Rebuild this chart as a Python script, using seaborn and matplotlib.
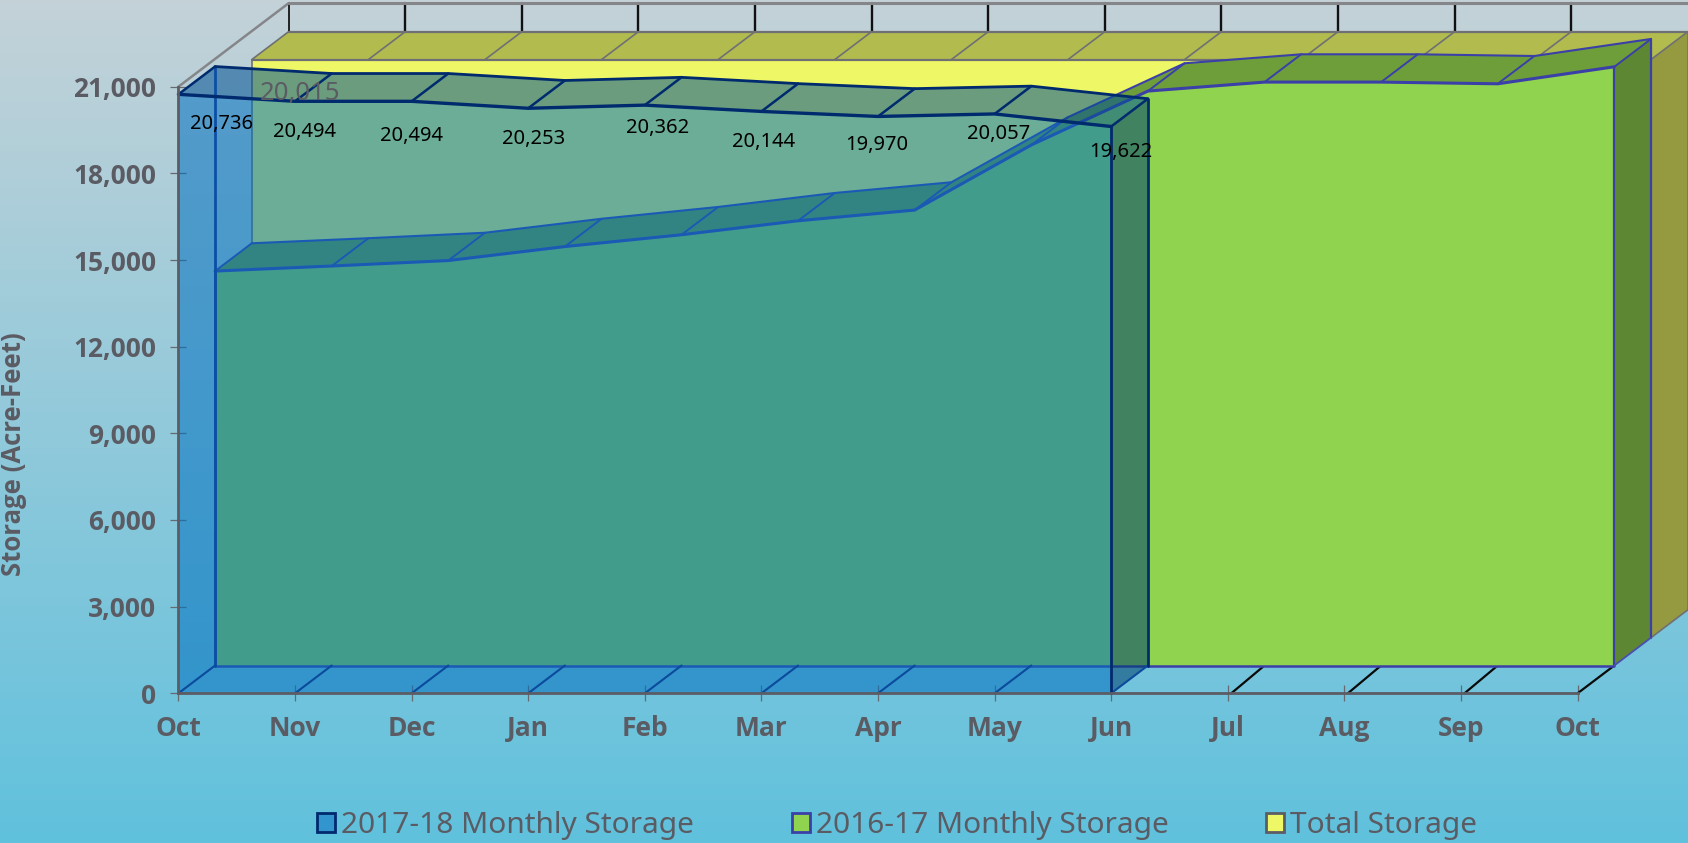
import numpy as np
import pandas as pd
import matplotlib
matplotlib.use("Agg")
import matplotlib.pyplot as plt
from matplotlib.patches import Patch
import seaborn as sns

# ---------- data ----------
months = ["Oct", "Nov", "Dec", "Jan", "Feb", "Mar", "Apr", "May", "Jun", "Jul", "Aug", "Sep", "Oct"]
storage_2017_18 = [20736, 20494, 20494, 20253, 20362, 20144, 19970, 20057, 19622]
storage_2016_17 = [13655, 13830, 14019, 14503, 14912, 15396, 15767, 18020, 19886, 20197, 20197, 20138, 20727]
total_storage = [20015] * 13
y_ticks = [0, 3000, 6000, 9000, 12000, 15000, 18000, 21000]
series_names = ["2017-18 Monthly Storage", "2016-17 Monthly Storage", "Total Storage"]

# ---------- style / layout ----------
FONT = "Noto Sans"
BOLD_FONT = "Open Sans"
TXT = "#5b5b63"
W, H = 1688, 843
X0, DXM = 178.4, 116.6          # pixel of first month, pixels per month
Y0, PPU = 693.3, 606.6 / 21000  # pixel of zero, pixels per acre-foot
DEPTH_X = 36.7 / DXM            # one series layer of depth, in months
DEPTH_Y = 27.8 / PPU            # one series layer of depth, in acre-feet
label_offsets_px = [(43, 30), (10, 31), (0, 35), (5, 31), (13, 23), (2, 31), (-1, 29), (4, 20), (10, 25)]

sns.set_theme(style="white")
plt.rcParams["font.family"] = [FONT, "DejaVu Sans"]

fig = plt.figure(figsize=(W / 100, H / 100), dpi=100)
ax = fig.add_axes([0, 0, 1, 1])
ax.patch.set_alpha(0)

# background gradient
top, bot = np.array([196, 210, 216]) / 255, np.array([96, 193, 221]) / 255
grad = np.linspace(0, 1, 256)[:, None, None] * (bot - top) + top
ax.imshow(grad, extent=(0, 1, 0, 1), transform=ax.transAxes, aspect="auto", zorder=-10, origin="upper")
ax.set_xlim(-X0 / DXM, (W - X0) / DXM)
ax.set_ylim((Y0 - H) / PPU, Y0 / PPU)


def shift(x, y, d):
    return np.asarray(x, float) + d * DEPTH_X, np.asarray(y, float) + d * DEPTH_Y


def poly(xs, ys, color, z, alpha=None):
    ax.fill(xs, ys, color=color, lw=0, zorder=z, alpha=alpha)


def line(x, y, color, lw, z, alpha=None):
    df = pd.DataFrame({"x": x, "y": y, "o": np.arange(len(x))})
    sns.lineplot(data=df, x="x", y="y", sort=False, estimator=None, ax=ax, color=color,
                 lw=lw, zorder=z, legend=False, alpha=alpha, solid_joinstyle="miter")


def box(x, y, d, top_c, side_c, front_c, z, front_alpha=None, top_alpha=None):
    """Front face, top and right side of one depth layer."""
    x = np.asarray(x, float)
    y = np.asarray(y, float)
    fx, fy = shift(x, y, d)
    bx, by = shift(x, y, d + 1)
    poly(np.r_[fx, bx[::-1]], np.r_[fy, by[::-1]], top_c, z, top_alpha)
    rbx, rby = shift([x[-1]], [0], d)
    rbx2, rby2 = shift([x[-1]], [0], d + 1)
    poly([fx[-1], bx[-1], rbx2[0], rbx[0]], [fy[-1], by[-1], rby2[0], rby[0]], side_c, z, top_alpha)
    base = np.full_like(y, shift([0], [0], d)[1][0])
    ax.fill_between(fx, fy, base, color=front_c, lw=0, zorder=z + 0.1, alpha=front_alpha)
    return fx, fy, bx, by, base, rbx, rby, rbx2, rby2


GRAY = "#6f7074"
m = np.arange(len(months))

# ---------- back wall ----------
bx, by = shift(m, np.full(13, 21000), 3)
for xi in bx[1:-1]:
    line([xi, xi], [shift([0], [total_storage[0]], 3)[1][0], by[0]], "#111111", 1.7, 1)
line(bx, by, "#85868a", 2.2, 1.2)
lx, ly = shift([0, 0], [21000, 21000], 0)
lx2, ly2 = shift([0, 0], [21000, 21000], 3)
line([lx[0], lx2[0]], [ly[0], ly2[0]], "#85868a", 1.8, 1.2)
line([bx[0], bx[0]], [by[0], shift([0], [total_storage[0]], 3)[1][0]], "#222222", 1.4, 1)

# ---------- total storage ----------
t = np.array(total_storage, float)
fx, fy, b2x, b2y, base, rbx, rby, rbx2, rby2 = box(m, t, 2, "#b2bb4d", "#95993f", "#eef765", 2)
for i in range(13):
    line([fx[i], b2x[i]], [fy[i], b2y[i]], GRAY, 1.2, 2.2)
line(fx, fy, GRAY, 1.6, 2.2)
line(b2x, b2y, GRAY, 1.6, 2.2)
line([fx[-1], fx[-1]], [fy[-1], base[-1]], GRAY, 1.2, 2.2)
line([fx[0], fx[0]], [fy[0], base[0]], GRAY, 1.2, 2.2)
line([b2x[-1], b2x[-1]], [b2y[-1], rby2[0]], GRAY, 1.2, 2.2)

# ---------- floor ----------
for i in range(9, 13):
    xa, ya = shift([m[i]], [0], 0)
    xb, yb = shift([m[i]], [0], 1)
    line([xa[0] + 0.03 * (i < 12), xb[0]], [ya[0], yb[0]], "#0a0a0a", 1.6, 1.5)
xa, ya = shift([12], [0], 1)
xb, yb = shift([12], [0], 2)
xc, yc = shift([12], [0], 3)
line([xa[0], xb[0]], [ya[0], yb[0]], "#4a4fb0", 1.3, 3.4)
line([xb[0], xc[0]], [yb[0], yc[0]], GRAY, 1.2, 2.3)

# ---------- 2016-17 ----------
INDIGO = "#3b3fa8"
g = np.array(storage_2016_17, float)
fx, fy, b2x, b2y, base, rbx, rby, rbx2, rby2 = box(m, g, 1, "#6e9e3a", "#5e8733", "#90d34f", 3)
for i in range(13):
    line([fx[i], b2x[i]], [fy[i], b2y[i]], INDIGO, 1.4, 3.3)
line(fx, fy, INDIGO, 2.2, 3.3)
line(b2x, b2y, INDIGO, 1.5, 3.3)
line(fx, base, INDIGO, 1.8, 3.3)
line([fx[0], fx[0]], [fy[0], base[0]], INDIGO, 1.8, 3.3)
line([fx[-1], fx[-1]], [fy[-1], base[-1]], INDIGO, 1.6, 3.3)
line([b2x[-1], b2x[-1]], [b2y[-1], rby2[0]], INDIGO, 1.6, 3.3)

# ---------- 2017-18 ----------
NAVY = "#002a6e"
b = np.array(storage_2017_18, float)
bm = m[:len(b)]
fx, fy, b2x, b2y, base, rbx, rby, rbx2, rby2 = box(bm, b, 0, (0, 0.32, 0.58), (0, 0.25, 0.44), (0, 0.44, 0.75),
                                                   5, front_alpha=0.55, top_alpha=0.55)
for i in range(len(b)):
    line([fx[i], b2x[i]], [fy[i], b2y[i]], NAVY, 1.8, 5.3)
    fl = shift([bm[i]], [0], 0)
    bl = shift([bm[i]], [0], 1)
    line([fl[0][0], bl[0][0]], [fl[1][0], bl[1][0]], "#0b4a9c", 1.5, 5.3)
line(fx, fy, NAVY, 2.4, 5.3)
line(b2x, b2y, NAVY, 2.0, 5.3)
line([b2x[0], b2x[0]], [b2y[0], shift([0], [0], 1)[1][0]], "#0b4fa5", 2.0, 5.2)
line([fx[-1], fx[-1]], [fy[-1], 0], NAVY, 2.0, 5.3)
line([b2x[-1], b2x[-1]], [b2y[-1], rby2[0]], NAVY, 2.0, 5.3)

# ---------- data labels ----------
for xi, v, (dx, dy) in zip(bm, storage_2017_18, label_offsets_px):
    ax.annotate(f"{v:,}", (xi, v), xytext=(dx * 0.72, -dy * 0.72), textcoords="offset points",
                ha="center", va="center", fontsize=14.5, color="black", zorder=8)
tx, ty = shift([0], [total_storage[0]], 2)
ax.annotate(f"{total_storage[0]:,}", (tx[0], ty[0]), xytext=(48 * 0.72, -34 * 0.72), textcoords="offset points",
            ha="center", va="center", fontsize=18.5, color=TXT, zorder=8)

# ---------- axes ----------
for s in ("top", "right"):
    ax.spines[s].set_visible(False)
for s in ("left", "bottom"):
    ax.spines[s].set_position(("data", 0))
    ax.spines[s].set_color("#5c5c64")
    ax.spines[s].set_linewidth(2.0)
    ax.spines[s].set_zorder(6)
ax.spines["left"].set_bounds(0, 21000)
ax.spines["bottom"].set_bounds(0, 12)
ax.set_xticks(m, months)
ax.set_yticks(y_ticks, [f"{v:,}" for v in y_ticks])
ax.tick_params(axis="both", direction="inout", length=11.5, width=0.9, color="#666a70",
               labelcolor=TXT, labelsize=19, left=True, bottom=True, zorder=6)
ax.tick_params(axis="x", pad=10)
ax.tick_params(axis="y", pad=10)
for lab in ax.get_xticklabels() + ax.get_yticklabels():
    lab.set_fontweight("bold")
    lab.set_fontfamily([BOLD_FONT, "DejaVu Sans"])
ax.set_xlabel("")
ax.set_ylabel("")
fig.text(14 / W, 1 - 454 / H, "Storage (Acre-Feet)", rotation=90, ha="center", va="center",
         fontsize=18.5, fontweight="bold", color=TXT, family=[BOLD_FONT, "DejaVu Sans"])

# ---------- legend ----------
handles = [Patch(facecolor="#3395ce", edgecolor=NAVY, lw=2),
           Patch(facecolor="#90d34f", edgecolor=INDIGO, lw=2),
           Patch(facecolor="#eef765", edgecolor="#5c5c64", lw=2)]
ax.legend(handles, series_names, ncol=3, frameon=False, loc="center left",
          bbox_to_anchor=(317 / W, 1 - 826 / H), fontsize=21.5, labelcolor=TXT,
          handlelength=0.6, handleheight=0.6, handletextpad=0.2, columnspacing=3.28, borderpad=0, borderaxespad=0)

fig.savefig("out.png", dpi=100)
